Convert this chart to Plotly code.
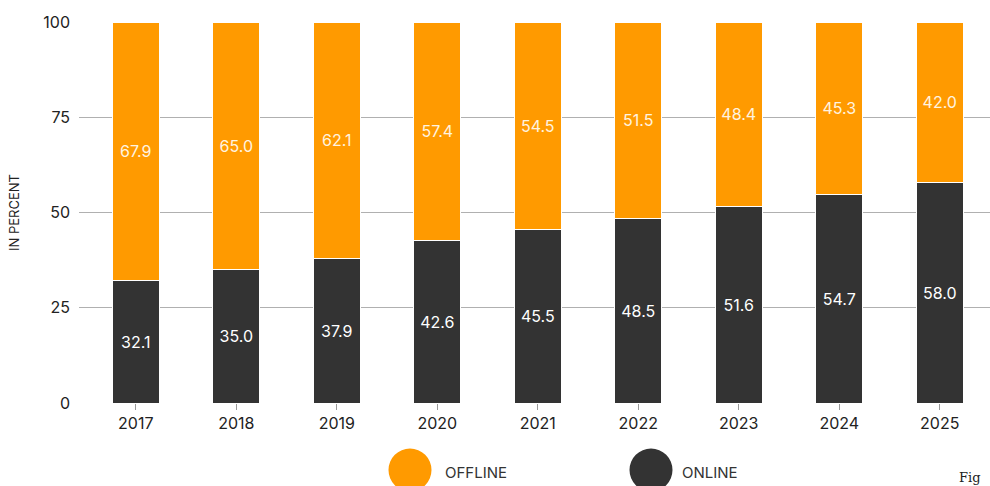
import plotly.graph_objects as go

years = ["2017", "2018", "2019", "2020", "2021", "2022", "2023", "2024", "2025"]
online = [32.1, 35.0, 37.9, 42.6, 45.5, 48.5, 51.6, 54.7, 58.0]
offline = [67.9, 65.0, 62.1, 57.4, 54.5, 51.5, 48.4, 45.3, 42.0]
y_ticks = [0, 25, 50, 75, 100]

ORANGE = "#FF9A00"
DARK = "#333333"
FONT = "Inter, Lato, sans-serif"

fig = go.Figure()
fig.add_trace(go.Bar(
    x=list(range(len(years))), y=online, name="ONLINE",
    marker=dict(color=DARK, line=dict(color="white", width=1)),
    text=[f"{v:.1f}" for v in online], textposition="inside",
    insidetextanchor="middle", textangle=0,
    textfont=dict(color="white", size=16, family=FONT),
    width=0.47, showlegend=False,
))
fig.add_trace(go.Bar(
    x=list(range(len(years))), y=offline, name="OFFLINE",
    marker=dict(color=ORANGE, line=dict(color="white", width=1)),
    text=[f"{v:.1f}" for v in offline], textposition="inside",
    insidetextanchor="middle", textangle=0,
    textfont=dict(color="#FFF4E0", size=16, family=FONT),
    width=0.47, showlegend=False,
))

# custom legend (large circles)
def px_x(p):
    return (p - 79) / 911.0

def px_y(p):
    return (403 - p) / 381.0

legend_items = [("OFFLINE", ORANGE, 410, 443), ("ONLINE", DARK, 651, 680)]
for label, col, cx, tx in legend_items:
    r = 21.5
    fig.add_shape(type="circle", xref="paper", yref="paper",
                  x0=px_x(cx - r), x1=px_x(cx + r), y0=px_y(470 + r), y1=px_y(470 - r),
                  fillcolor=col, line=dict(width=0))
    fig.add_annotation(text=label, xref="paper", yref="paper", x=px_x(tx), y=px_y(472),
                       xanchor="left", yanchor="middle", showarrow=False,
                       font=dict(size=15, color="#333333", family=FONT))

fig.add_annotation(text="Fig", xref="paper", yref="paper", x=px_x(958), y=px_y(486),
                   xanchor="left", yanchor="bottom", showarrow=False, borderpad=0,
                   font=dict(size=13, color="#222222", family="DejaVu Serif, serif"))

fig.update_layout(
    barmode="stack",
    width=990, height=486,
    margin=dict(l=79, r=0, t=22, b=83),
    paper_bgcolor="white", plot_bgcolor="white",
    font=dict(family=FONT, color="#222222"),
    xaxis=dict(
        range=[-0.565, 8.5], tickmode="array", tickvals=list(range(len(years))),
        ticktext=years, ticks="outside", ticklen=6, tickcolor="#999999",
        showgrid=False, zeroline=False, showline=False,
        tickfont=dict(size=16, color="#222222", family=FONT),
    ),
    yaxis=dict(
        range=[0, 100], tickvals=y_ticks, showgrid=True, gridcolor="#B0B0B0",
        gridwidth=1, zeroline=False, showline=False, ticks="",
        ticklabelstandoff=8,
        tickfont=dict(size=16, color="#222222", family=FONT),
        title=dict(text="IN PERCENT", font=dict(size=13, color="#222222", family=FONT), standoff=20),
    ),
)

fig.write_html("out.html")
